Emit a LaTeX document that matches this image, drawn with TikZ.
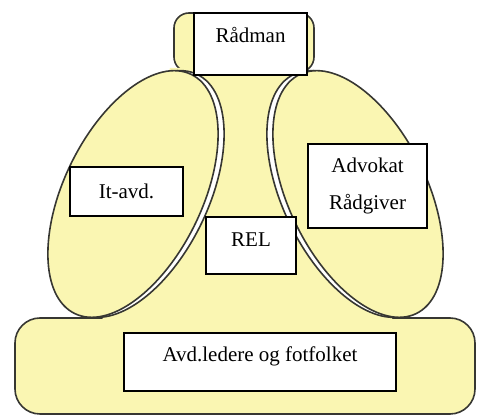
\documentclass[tikz,border=0pt]{standalone}
\usepackage{fontspec}
\setmainfont{Liberation Serif}
\definecolor{gul}{RGB}{250,246,178}
\definecolor{strek}{RGB}{55,55,50}
\tikzset{
  figur/.style={fill=gul, draw=strek, line width=1.6pt},
  boks/.style={draw=black, fill=white, line width=1.4pt, inner sep=0pt,
    font=\fontsize{21}{25}\selectfont, anchor=base},
}

\begin{document}
\begin{tikzpicture}[x=1pt,y=1pt]
                \useasboundingbox (0,0) rectangle (477,417);
                % 底座
                \draw[figur, rounded corners=25] (15,3) rectangle (475,99);
                % 头
                \draw[figur, rounded corners=15] (174,345) rectangle (314,404);
                % 身体
                \fill[gul] (170,349) -- (304,349) -- (358,223) -- (395,88) -- (100,88) -- (133,223) -- cycle;
                % 手臂（白色双线 + 黄色）
                \foreach \cx/\rot/\dx in {133/64/6, 358/116/-6} {
                    \draw[draw=strek, line width=1.6pt, fill=white] (\cx+\dx,223) ellipse [x radius=133, y radius=69, rotate=\rot];
                    \draw[figur] (\cx,223) ellipse [x radius=133, y radius=69, rotate=\rot];
                }
                % 文本框
                \node[boks, minimum width=113pt, text height=30pt, text depth=32pt] (raadmann) at (250.5,374) {Rådman};
                \node[boks, minimum width=113pt, text height=32pt, text depth=17pt] (itavd) at (126.5,218) {It-avd.};
                \node[boks, minimum width=90pt, text height=30pt, text depth=27pt] (rel) at (251,170) {REL};
                \node[boks, anchor=center, align=center, minimum width=119pt, minimum height=84pt,
                      font=\fontsize{21}{37}\selectfont] (advokat) at (367.5,231) {Advokat\\Rådgiver};
                \node[boks, minimum width=272pt, text height=29pt, text depth=29pt] (fotfolket) at (260,55) {Avd.ledere og fotfolket};
            \end{tikzpicture}
\end{document}
